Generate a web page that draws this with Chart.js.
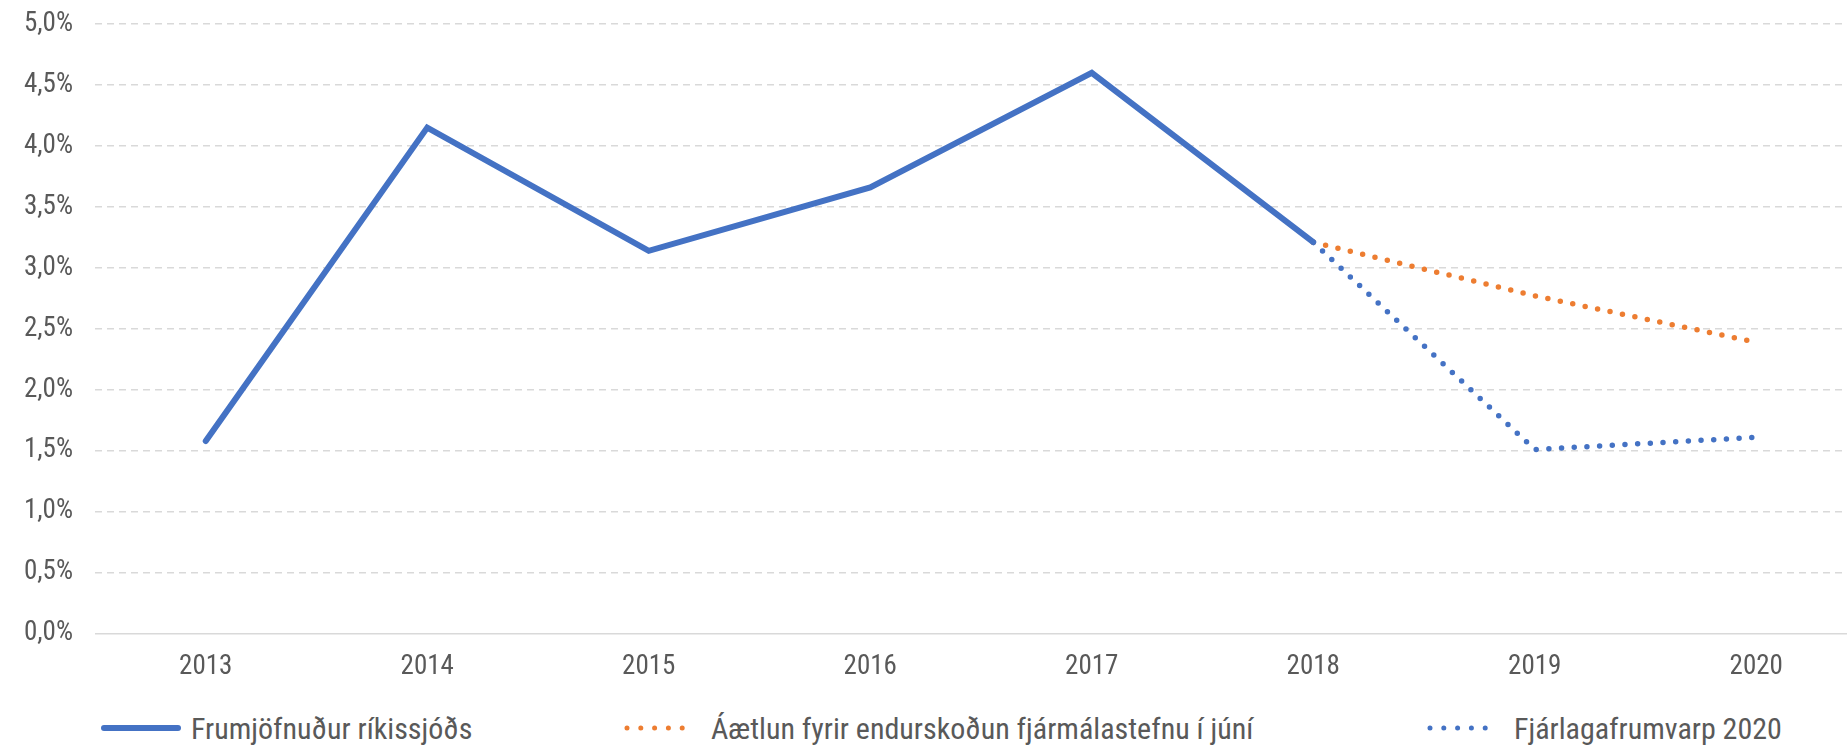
<!DOCTYPE html>
<html lang="is">
<head>
<meta charset="utf-8">
<title>Frumjöfnuður ríkissjóðs</title>
<script src="https://cdn.jsdelivr.net/npm/chart.js@4.4.1/dist/chart.umd.min.js"></script>
<style>
  html, body { margin: 0; padding: 0; background: #fff; overflow: hidden; }
  #wrap { position: relative; width: 1847px; height: 745px; overflow: hidden; }
  #box { position: absolute; left: 0; top: 0; width: 1867px; height: 700px; }
  #legend {
    position: absolute; left: 0; top: 711px; width: 1847px; height: 34px;
    font-family: "Liberation Sans Narrow", "Roboto Condensed", "DejaVu Sans Condensed", Roboto, sans-serif;
    font-size: 30px; color: #595959;
  }
  .item { position: absolute; top: 0; height: 34px; display: flex; align-items: center; white-space: nowrap; }
  .item svg { display: block; margin-right: 10px; }
</style>
</head>
<body>
<div id="wrap">
  <div id="box"><canvas id="chart"></canvas></div>
  <div id="legend"></div>
</div>
<script>
"use strict";

const FONT = '"Liberation Sans Narrow", "Roboto Condensed", "DejaVu Sans Condensed", Roboto, sans-serif';
const TEXT_COLOR = "#595959";
const GRID_COLOR = "#d9d9d9";
const BLUE = "#4472C4";
const ORANGE = "#ED7D31";

// gögn (%)
const years = ["2013", "2014", "2015", "2016", "2017", "2018", "2019", "2020"];
const primaryBalance = [1.58, 4.15, 3.14, 3.66, 4.60, 3.21, null, null];
const planJune = [null, null, null, null, null, 3.21, 2.77, 2.39];
const budget2020 = [null, null, null, null, null, 3.21, 1.51, 1.61];
const yMin = 0, yMax = 5, yStep = 0.5;

const labels = [
  "Frumjöfnuður ríkissjóðs",
  "Áætlun fyrir endurskoðun fjármálastefnu í júní",
  "Fjárlagafrumvarp 2020",
];

// left edge of each legend entry
const LEGEND_X = [101, 624, 1427];

function fmtPct(v) {
  return v.toFixed(1).replace(".", ",") + "%";
}

function main() {
  const ctx = document.getElementById("chart");
  const chart = new Chart(ctx, {
    type: "line",
    data: {
      labels: years,
      datasets: [
        {
          label: labels[0], data: primaryBalance,
          borderColor: BLUE, backgroundColor: BLUE,
          borderWidth: 6, borderCapStyle: "round", borderJoinStyle: "miter",
          pointRadius: 0, tension: 0,
        },
        {
          label: labels[1], data: planJune,
          borderColor: ORANGE, backgroundColor: ORANGE,
          borderWidth: 5.5, borderCapStyle: "round", borderDash: [0, 12.7],
          pointRadius: 0, tension: 0,
        },
        {
          label: labels[2], data: budget2020,
          borderColor: BLUE, backgroundColor: BLUE,
          borderWidth: 5.5, borderCapStyle: "round", borderDash: [0, 12.7],
          pointRadius: 0, tension: 0,
        },
      ],
    },
    options: {
      responsive: true,
      maintainAspectRatio: false,
      animation: false,
      layout: { padding: { top: 24, right: 0, bottom: 0, left: 0 } },
      plugins: {
        legend: { display: false },
        tooltip: { enabled: false },
      },
      scales: {
        x: {
          offset: true,
          grid: { display: false, drawTicks: false },
          border: { display: false },
          ticks: {
            color: TEXT_COLOR, padding: 17, maxRotation: 0,
            font: { family: FONT, size: 27 },
          },
        },
        y: {
          min: yMin, max: yMax,
          afterFit: s => { s.width = 95; s.paddingTop = 0; },
          grid: { color: GRID_COLOR, lineWidth: 1.5, drawTicks: false },
          border: {
            display: false,
            dash: c => (c.tick && c.tick.value === 0 ? [] : [7, 5]),
          },
          ticks: {
            stepSize: yStep, padding: 22, color: TEXT_COLOR,
            font: { family: FONT, size: 27 },
            callback: v => fmtPct(v),
          },
        },
      },
    },
  });
  renderLegend(chart);
}

function renderLegend(chart) {
  const el = document.getElementById("legend");
  el.innerHTML = chart.data.datasets.map((ds, i) => {
    const dotted = Array.isArray(ds.borderDash) && ds.borderDash.length > 0;
    const sample = dotted
      ? `<svg width="77" height="14"><line x1="3" y1="7" x2="72" y2="7" stroke="${ds.borderColor}"
           stroke-width="5" stroke-linecap="round" stroke-dasharray="0 13.8"/></svg>`
      : `<svg width="80" height="14"><line x1="3" y1="7" x2="77" y2="7" stroke="${ds.borderColor}"
           stroke-width="6" stroke-linecap="round"/></svg>`;
    return `<div class="item" style="left:${LEGEND_X[i]}px">${sample}<span>${ds.label}</span></div>`;
  }).join("");
}

main();
</script>
</body>
</html>
